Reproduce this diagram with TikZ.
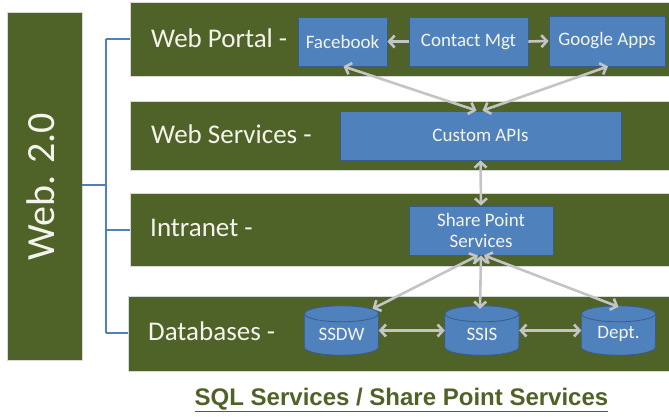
\documentclass[tikz,border=0pt]{standalone}
\usepackage{fontspec}
\setmainfont{Carlito}
\newfontfamily\titlefont{Liberation Sans}
\usetikzlibrary{arrows.meta,calc}
\definecolor{bandgreen}{HTML}{4F6228}
\definecolor{boxblue}{HTML}{4F81BD}
\definecolor{boxedge}{HTML}{385D8A}
\definecolor{arrgray}{HTML}{C4C4C4}
\definecolor{txtwhite}{HTML}{F4F4EC}
\newcommand\dbcylinder[4]{%
  \node[minimum width=74pt,minimum height=49pt,inner sep=0pt] (#1) at (#2,#3) {};
  \draw[fill=boxblue,draw=boxedge,line width=0.8pt]
    ($(#1.north west)+(0,8)$) -- ($(#1.south west)-(0,8)$)
    arc[start angle=180,end angle=360,x radius=37pt,y radius=8pt]
    -- ($(#1.north east)+(0,8)$)
    arc[start angle=0,end angle=180,x radius=37pt,y radius=8pt] -- cycle;
  \draw[fill=boxblue,draw=boxedge,line width=0.8pt] ($(#1.north)+(0,8)$) ellipse[x radius=37pt,y radius=8pt];
  \node[text=txtwhite,font=\fontsize{19}{22}\selectfont,inner sep=0pt] (#1t) at ($(#1.center)+(0,3.5)$) {#4};
}
\begin{document}
\begin{tikzpicture}[x=1pt,y=-1pt,
  band/.style={fill=bandgreen,draw=black!15,line width=0.6pt,inner sep=0pt,anchor=north west},
  bandlabel/.style={anchor=west,text=txtwhite,inner sep=0pt,font=\fontsize{27}{30}\selectfont},
  bluebox/.style={fill=boxblue,draw=boxedge,line width=0.8pt,text=txtwhite,font=\fontsize{19}{22}\selectfont,align=center,inner sep=0pt},
  link/.style={draw=arrgray,line width=2.6pt,{Straight Barb[length=5.5pt,width=12pt]}-{Straight Barb[length=5.5pt,width=12pt]}},
  onelink/.style={draw=arrgray,line width=2.6pt,-{Straight Barb[length=5.5pt,width=12pt]}},
  tree/.style={draw=boxblue,line width=1.1pt}]
\useasboundingbox (0,0) rectangle (669,417);
% Web 2.0 bar
\node[fill=bandgreen,draw=black!15,line width=0.6pt,minimum width=75pt,minimum height=348pt,inner sep=0pt] (bar) at (44.5,186) {};
\node[rotate=90,text=txtwhite,font=\fontsize{40}{44}\selectfont,inner sep=0pt] (bartext) at (41,187) {Web. 2.0};
% bands
\node[band,minimum width=540pt,minimum height=74pt] (b1) at (130,2) {};
\node[band,minimum width=540pt,minimum height=69pt] (b2) at (130,101) {};
\node[band,minimum width=540pt,minimum height=73pt] (b3) at (130,193) {};
\node[band,minimum width=542pt,minimum height=75pt] (b4) at (128,296) {};
% labels
\node[bandlabel] (l1) at (151,38) {Web Portal -};
\node[bandlabel] (l2) at (151,134) {Web Services -};
\node[bandlabel] (l3) at (150,228) {Intranet -};
\node[bandlabel] (l4) at (148,331) {Databases -};
% tree connector
\coordinate (tj) at (106,185);
\draw[tree] (bar.east |- tj) -- (tj);
\draw[tree] (106,39) -- (106,333);
\draw[tree] (106,39) -- (b1.west |- 0,39);
\draw[tree] (106,230) -- (b3.west |- 0,230);
\draw[tree] (106,333) -- (b4.west |- 0,333);
% blue boxes
\node[bluebox,minimum width=89pt,minimum height=49pt] (fb) at (342.5,41.5) {Facebook};
\node[bluebox,minimum width=119pt,minimum height=49pt] (cm) at (468.5,41.5) {Contact Mgt};
\node[bluebox,minimum width=116pt,minimum height=50pt] (ga) at (607,41) {Google Apps};
\node[bluebox,minimum width=281pt,minimum height=49pt] (api) at (480.5,135.5) {Custom APIs};
\node[bluebox,minimum width=144pt,minimum height=49pt] (sp) at (481,230.5) {Share Point\\[-1pt]Services};
% cylinders
\dbcylinder{ssdw}{341.5}{330.5}{SSDW}
\dbcylinder{ssis}{482}{330.5}{SSIS}
\dbcylinder{dept}{618.5}{330.5}{Dept.}
% arrows
\draw[onelink] (cm.west) -- (fb.east);
\draw[onelink] (cm.east) -- (ga.west);
\draw[link] ([xshift=1pt]fb.south) -- ([xshift=-4pt]api.north);
\draw[link] ([xshift=1pt]ga.south) -- ([xshift=2pt]api.north);
\draw[link] (api.south) -- (sp.north);
\draw[link] ([xshift=-3pt]sp.south) -- ([xshift=31pt,yshift=-3pt]ssdw.north);
\draw[link] (sp.south) -- ([xshift=-2pt,yshift=-3pt]ssis.north);
\draw[link] ([xshift=3pt]sp.south) -- ([yshift=-1pt]dept.north);
\draw[link] (ssdw.east) -- (ssis.west);
\draw[link] (ssis.east) -- (dept.west);
% bottom title
\node[text=bandgreen,font=\titlefont\bfseries\fontsize{24}{28}\selectfont,inner sep=0pt] (title) at (401.5,400) {\underline{SQL Services / Share Point Services}};
\end{tikzpicture}
\end{document}
